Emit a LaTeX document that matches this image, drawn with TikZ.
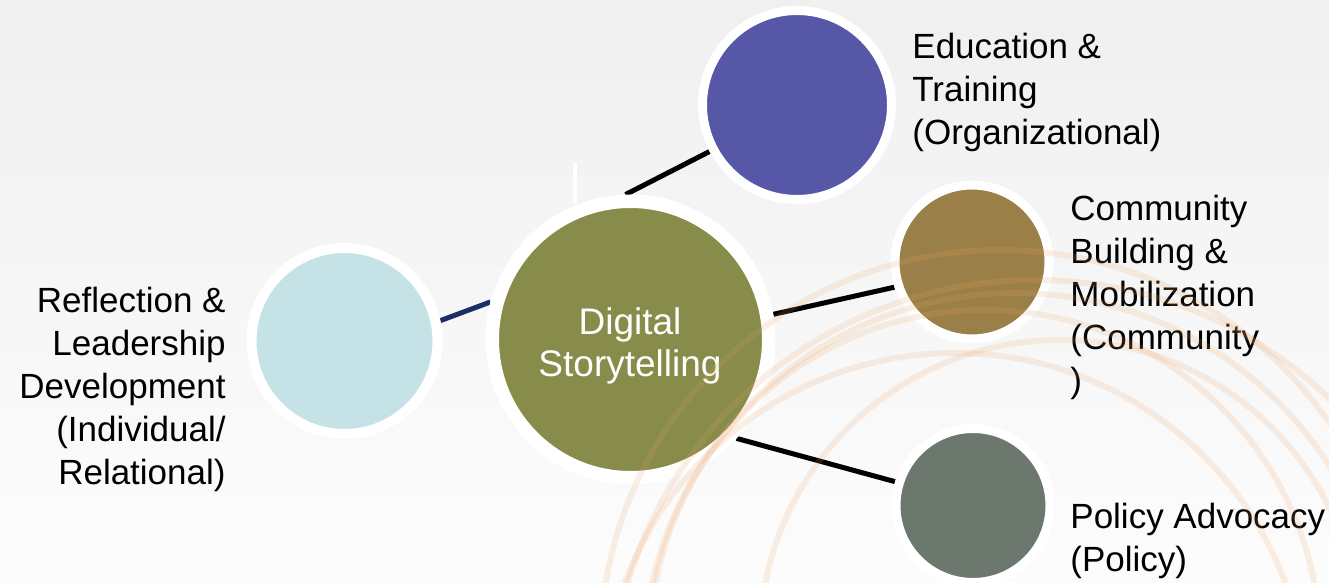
\documentclass[tikz,border=0pt]{standalone}
\usepackage{fontspec}
\setmainfont{Liberation Sans}
\usetikzlibrary{positioning}

\pgfdeclarelayer{bg}
\pgfdeclarelayer{links}
\pgfsetlayers{bg,links,main}

\definecolor{eduC}{HTML}{5757A8}
\definecolor{digC}{HTML}{878C4A}
\definecolor{reflC}{HTML}{C5E3E6}
\definecolor{commC}{HTML}{9A8048}
\definecolor{polC}{HTML}{6C776E}
\definecolor{navyC}{HTML}{1B2F66}
\definecolor{arcC}{HTML}{EBA060}

\begin{document}
\begin{tikzpicture}[x=0.5pt, y=-0.5pt,
  bubble/.style={circle, draw=white, inner sep=0pt},
  lbl/.style={inner sep=0pt, text=black, font=\fontsize{17.5}{21.5}\selectfont},
  link/.style={line width=2.5pt}]
  \useasboundingbox (0,0) rectangle (1329,583);
  \begin{pgfonlayer}{bg}
    \shade[top color=black!6, bottom color=black!1] (0,0) rectangle (1329,583);
  \end{pgfonlayer}

  % bubbles
  \node[bubble, fill=eduC, minimum size=94.5pt, line width=4.5pt] (edu) at (797,105) {};
  \node[bubble, fill=digC, minimum size=138.25pt, line width=6.75pt] (dig) at (630.5,339.5) {};
  \node[inner sep=0pt, text=white, align=center, font=\fontsize{18.5}{21}\selectfont] (digT) at (630,346) {Digital\\Storytelling};
  \node[bubble, fill=reflC, minimum size=93pt, line width=5pt] (refl) at (344.5,341) {};
  \node[bubble, fill=commC, minimum size=77pt, line width=4.5pt] (comm) at (972,262) {};
  \node[bubble, fill=polC, minimum size=77pt, line width=4.5pt] (pol) at (973,505.5) {};

  % labels
  \node[lbl, anchor=west, align=left] (eduT) at (912,92) {Education \&\\Training\\(Organizational)};
  \node[lbl, anchor=west, align=left] (commT) at (1070,297.5) {Community\\Building \&\\Mobilization\\(Community\\)};
  \node[lbl, anchor=west, align=left] (polT) at (1070,541) {Policy Advocacy\\(Policy)};
  \node[lbl, anchor=east, align=right] (reflT) at (226,389.5) {Reflection \&\\Leadership\\Development\\(Individual/\\Relational)};

  % links
  \begin{pgfonlayer}{links}
    \draw[link] (dig.92) -- (edu.208);
    \draw[link] (dig.10) -- (comm.198);
    \draw[link] (dig.317) -- (pol.163);
    \draw[link, navyC] (refl.12) -- (dig.165);
    \draw[white, line width=2pt] (575,163) -- (575,203);
  \end{pgfonlayer}

  % watermark arcs
  \begin{scope}
    \clip (0,0) rectangle (1329,583);
    \foreach \cx/\cy/\r in {1000/650/400, 1015/665/372, 985/645/335, 1035/705/425, 955/705/352, 1060/640/300}
      \draw[arcC, line width=3pt, opacity=0.16] (\cx,\cy) ++(180:\r) arc[start angle=180, end angle=360, radius=\r];
  \end{scope}
\end{tikzpicture}
\end{document}
